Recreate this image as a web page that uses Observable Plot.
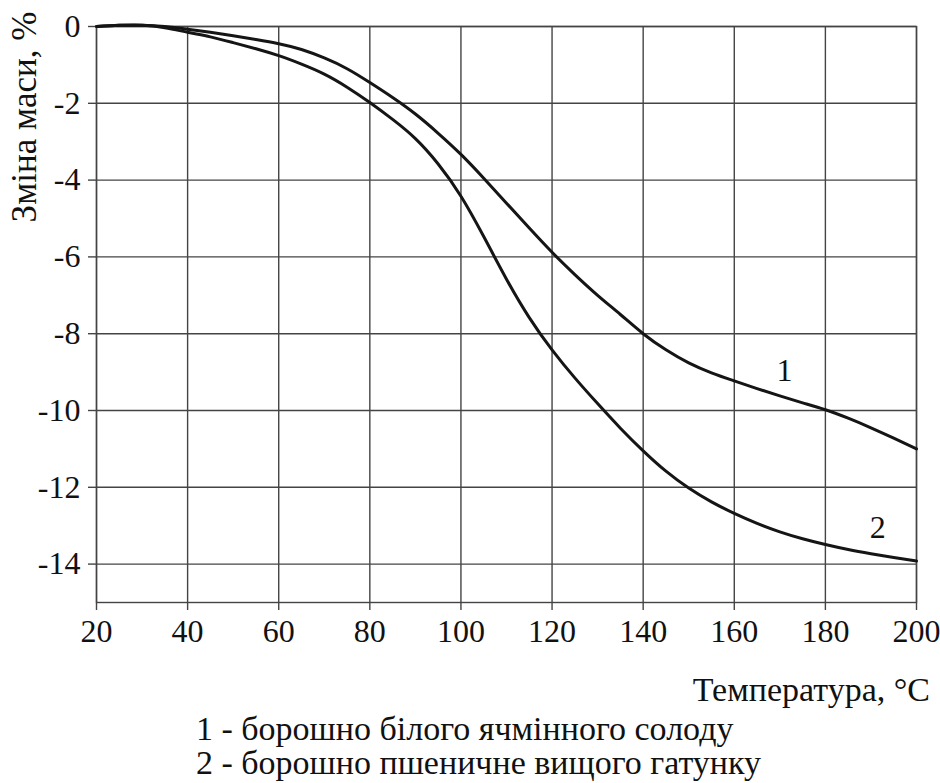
<!DOCTYPE html>
<html><head><meta charset="utf-8">
<script src="https://cdn.jsdelivr.net/npm/d3@7"></script>
<script src="https://cdn.jsdelivr.net/npm/@observablehq/plot@0.6"></script>
<style>
body{margin:0;background:#fff;}
#wrap{position:relative;width:940px;height:783px;color:#111;overflow:hidden;font-family:"Liberation Serif","Tinos","Times New Roman",serif;}
#wrap svg{display:block;}
.lab{position:absolute;white-space:nowrap;font-size:34px;line-height:34px;}
</style></head><body><div id="wrap"></div>
<script>
const temps   = [20,25,30,35,40,45,50,55,60,65,70,75,80,85,90,95,100,105,110,115,120,125,130,135,140,145,150,155,160,165,170,175,180,185,190,195,200];
const series1 = [0,0.03,0.035,0.0,-0.07,-0.15,-0.24,-0.34,-0.45,-0.6,-0.82,-1.1,-1.46,-1.85,-2.28,-2.78,-3.33,-3.95,-4.6,-5.25,-5.88,-6.46,-7.0,-7.5,-8.0,-8.42,-8.76,-9.02,-9.23,-9.43,-9.62,-9.8,-9.98,-10.2,-10.45,-10.72,-11.0];
const series2 = [0,0.03,0.03,-0.03,-0.15,-0.27,-0.42,-0.58,-0.76,-0.98,-1.24,-1.58,-1.98,-2.42,-2.92,-3.58,-4.42,-5.47,-6.58,-7.58,-8.42,-9.15,-9.82,-10.46,-11.05,-11.58,-12.02,-12.38,-12.68,-12.94,-13.16,-13.34,-13.49,-13.62,-13.73,-13.83,-13.92];
const xTicks = [20,40,60,80,100,120,140,160,180,200];
const yTicks = [0,-2,-4,-6,-8,-10,-12,-14];
const curveLabels = ["1","2"];
const labelT = [171,191.5];
const labelV = [-8.97,-13.05];
const seriesNames = ["1 - борошно білого ячмінного солоду","2 - борошно пшеничне вищого гатунку"];
const xTitle = "Температура, °C";
const yTitle = "Зміна маси, %";

const FONT = "'Liberation Serif','Tinos','Times New Roman',serif";
const data = temps.flatMap((t,i)=>[{t, v:series1[i], s:"1"},{t, v:series2[i], s:"2"}]);
const gridStyle = {stroke:"#444", strokeOpacity:1, strokeWidth:1.4};

const chart = Plot.plot({
  width:940, height:650,
  marginLeft:96, marginRight:24, marginTop:26, marginBottom:48,
  style:{fontFamily:FONT, fontSize:"32px", color:"#111", background:"#fff"},
  x:{domain:[20,200]},
  y:{domain:[-15,0]},
  marks:[
    Plot.gridX(xTicks, gridStyle),
    Plot.gridY(yTicks, gridStyle),
    Plot.frame({stroke:"#444", strokeWidth:1.4}),
    Plot.axisX(xTicks, {tickSize:8, tickPadding:9, label:null, stroke:"#444", strokeWidth:1.4, fontSize:32, tickFormat:d=>String(d)}),
    Plot.axisY(yTicks, {tickSize:8, tickPadding:8, label:null, stroke:"#444", strokeWidth:1.4, fontSize:32, tickFormat:d=>String(d)}),
    Plot.line(data, {x:"t", y:"v", z:"s", curve:"natural", stroke:"#151515", strokeWidth:3}),
    Plot.text(curveLabels, {x:(d,i)=>labelT[i], y:(d,i)=>labelV[i], text:d=>d, fontSize:32, fill:"#111"})
  ]
});
const wrap = document.getElementById("wrap");
wrap.appendChild(chart);

function addLabel(text, css){
  const d = document.createElement("div");
  d.className = "lab";
  d.textContent = text;
  Object.assign(d.style, css);
  wrap.appendChild(d);
  return d;
}
addLabel(yTitle, {left:"25px", top:"117px", transform:"translate(-50%,-50%) rotate(-90deg)", fontSize:"35px"});
addLabel(xTitle, {right:"10px", top:"673px"});
addLabel(seriesNames[0], {left:"196px", top:"712px"});
addLabel(seriesNames[1], {left:"196px", top:"746px"});
</script></body></html>
